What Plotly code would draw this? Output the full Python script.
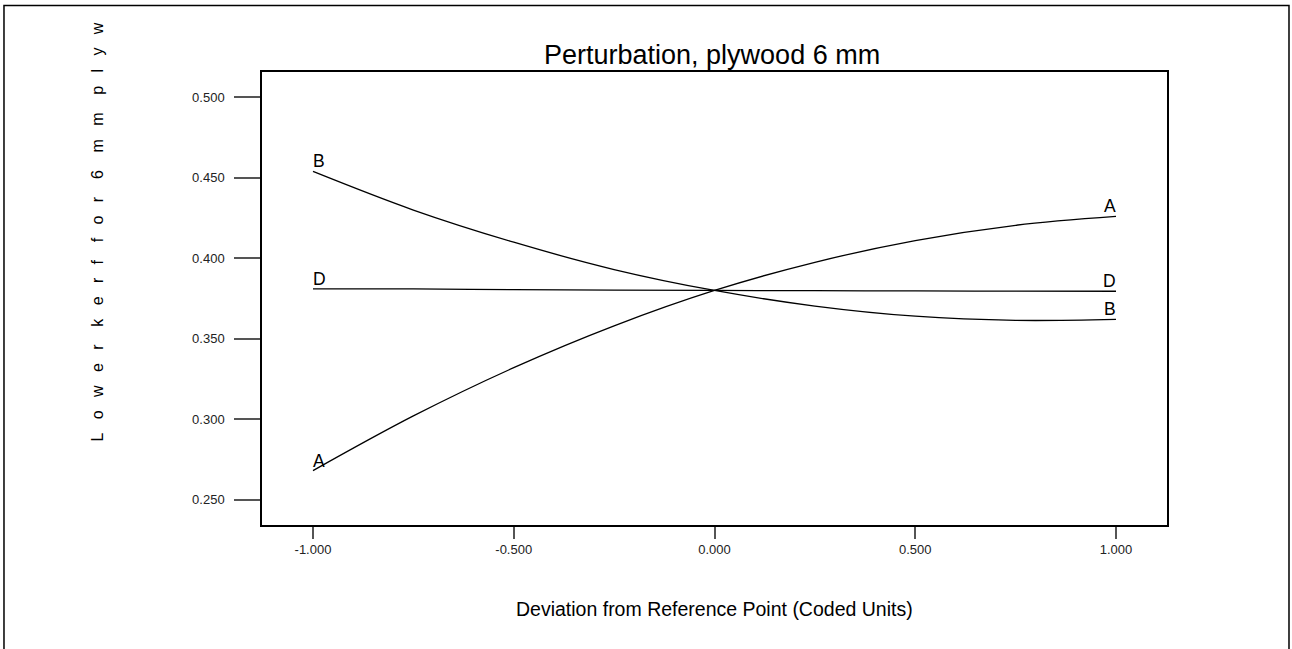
import plotly.graph_objects as go

# ---- data ----
x_coded = [-1.0, -0.75, -0.5, -0.25, 0.0, 0.25, 0.5, 0.75, 1.0]
series_A = [0.268, 0.302, 0.332, 0.358, 0.380, 0.3975, 0.411, 0.4205, 0.426]
series_B = [0.454, 0.430, 0.410, 0.393, 0.380, 0.3703, 0.364, 0.3614, 0.362]
series_D = [0.381, 0.381, 0.3805, 0.3802, 0.380, 0.3799, 0.3797, 0.3796, 0.3795]
series_names = ["A", "B", "D"]

y_tickvals = [0.25, 0.30, 0.35, 0.40, 0.45, 0.50]
y_ticktext = ["0.250", "0.300", "0.350", "0.400", "0.450", "0.500"]
x_tickvals = [-1.0, -0.5, 0.0, 0.5, 1.0]
x_ticktext = ["-1.000", "-0.500", "0.000", "0.500", "1.000"]

title_text = "Perturbation, plywood 6 mm"
x_title = "Deviation from Reference Point (Coded Units)"
y_title_letters = "Lower kerf for 6 mm plyw"

FONT = "Liberation Sans, Arial, sans-serif"

fig = go.Figure()
for name, vals in zip(series_names, [series_A, series_B, series_D]):
    fig.add_trace(go.Scatter(
        x=x_coded, y=vals, mode="lines", name=name,
        line=dict(color="black", width=1.3, shape="spline", smoothing=1.0),
        showlegend=False, hoverinfo="skip",
    ))
    # curve labels at both ends
    fig.add_annotation(x=x_coded[0], y=vals[0], text=name, showarrow=False,
                       xanchor="left", yanchor="bottom", xshift=-2, yshift=-2,
                       font=dict(family=FONT, size=17.5, color="black"))
    fig.add_annotation(x=x_coded[-1], y=vals[-1], text=name, showarrow=False,
                       xanchor="right", yanchor="bottom", xshift=2, yshift=-2,
                       font=dict(family=FONT, size=17.5, color="black"))

# spaced-out, rotated y-axis title (truncated as in the reference)
NB = "\u00a0"
words = y_title_letters.split(" ")
y_label = (NB * 4).join((NB * 3).join(list(w)) for w in words)
fig.add_annotation(xref="paper", yref="paper", x=-0.1823, y=0.646, text=y_label,
                   textangle=-90, showarrow=False, xanchor="center", yanchor="middle",
                   font=dict(family=FONT, size=16, color="black"))

# title
fig.add_annotation(xref="paper", yref="paper", x=0.497, y=1.0, text=title_text,
                   showarrow=False, xanchor="center", yanchor="bottom", yshift=0,
                   font=dict(family=FONT, size=27, color="black"))
# x-axis title
fig.add_annotation(xref="paper", yref="paper", x=0.5, y=0.0, text=x_title,
                   showarrow=False, xanchor="center", yanchor="middle", yshift=-84,
                   font=dict(family=FONT, size=19.5, color="black"))

# outer frame (left, top, right edges; bottom is beyond the page)
fig.add_shape(type="path", xref="paper", yref="paper",
              path="M -0.2851,-0.35 L -0.2851,1.1466 L 1.1348,1.1466 L 1.1348,-0.35",
              line=dict(color="black", width=1.5))

fig.update_xaxes(range=[-1.127, 1.127], tickvals=x_tickvals, ticktext=x_ticktext,
                 ticks="outside", ticklen=12, tickwidth=1.5, tickcolor="#555",
                 showline=True, mirror=True, linecolor="black", linewidth=1.5,
                 showgrid=False, zeroline=False, ticklabelstandoff=0,
                 tickfont=dict(family=FONT, size=13, color="#222"))
fig.update_yaxes(range=[0.2342, 0.5158], tickvals=y_tickvals, ticktext=y_ticktext,
                 ticks="outside", ticklen=26, tickwidth=1.5, tickcolor="#555",
                 showline=True, mirror=True, linecolor="black", linewidth=1.5,
                 showgrid=False, zeroline=False, ticklabelstandoff=7,
                 tickfont=dict(family=FONT, size=13, color="#222"))

fig.update_layout(
    width=1292, height=649,
    margin=dict(l=262, r=125, t=72, b=124),
    paper_bgcolor="white", plot_bgcolor="white",
    font=dict(family=FONT, color="black"),
)

fig.write_html("out.html", config={"displayModeBar": False},
               post_script="document.body.style.margin='0';document.body.style.overflow='hidden';")
